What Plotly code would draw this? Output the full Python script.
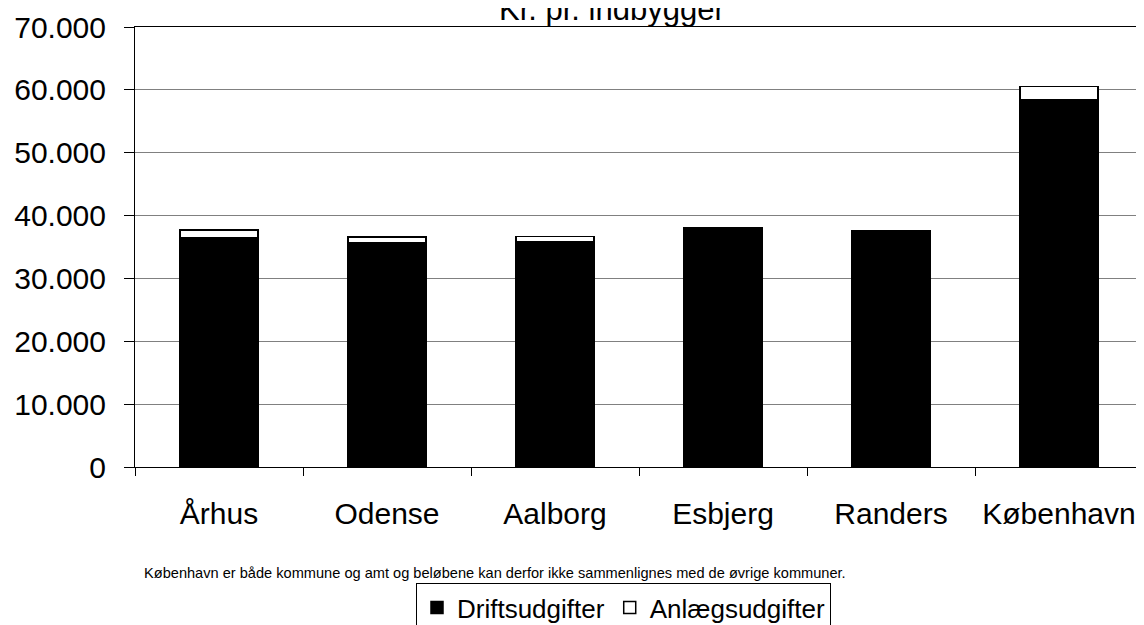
import plotly.graph_objects as go

KOMMUNER = ["Århus", "Odense", "Aalborg", "Esbjerg", "Randers", "København"]
DRIFT = [36500, 35600, 35800, 37900, 37600, 58500]
ANLAEG = [1200, 1000, 900, 200, 0, 2000]
Y_TICKS = [0, 10000, 20000, 30000, 40000, 50000, 60000, 70000]

FONT = "Liberation Sans, Arial, sans-serif"

# the page body adds an 8px margin, so the figure is 8px smaller than the window
# plot area on screen: x 135..1143, y 27..467
fig = go.Figure()
fig.add_trace(
    go.Bar(
        x=KOMMUNER,
        y=DRIFT,
        name="Driftsudgifter",
        marker=dict(color="#000000", line=dict(color="#000000", width=1.5)),
    )
)
fig.add_trace(
    go.Bar(
        x=KOMMUNER,
        y=ANLAEG,
        name="Anlægsudgifter",
        marker=dict(color="#ffffff", line=dict(color="#000000", width=1.5)),
    )
)

fig.update_layout(
    width=1136,
    height=617,
    barmode="stack",
    bargap=0.535,
    separators=",.",
    paper_bgcolor="white",
    plot_bgcolor="white",
    font=dict(family=FONT, color="#000000", size=30),
    margin=dict(l=127, r=1, t=19, b=158, autoexpand=False),
    showlegend=True,
    legend=dict(
        orientation="h",
        x=(416 - 135) / 1008,
        xanchor="left",
        y=(467 - 583) / 440,
        yanchor="top",
        bordercolor="#000000",
        borderwidth=1,
        font=dict(size=26),
        traceorder="normal",
        itemwidth=30,
    ),
    xaxis=dict(
        showline=True,
        linecolor="#000000",
        mirror=True,
        ticks="outside",
        tickson="boundaries",
        ticklen=8,
        tickcolor="#000000",
        ticklabelstandoff=20,
        showgrid=False,
    ),
    yaxis=dict(
        range=[0, 70000],
        tickvals=Y_TICKS,
        tickformat=",d",
        showline=True,
        linecolor="#000000",
        ticks="outside",
        ticklen=10,
        tickcolor="#000000",
        ticklabelstandoff=12,
        showgrid=True,
        gridcolor="#808080",
        gridwidth=1,
        zeroline=False,
    ),
)

fig.add_annotation(
    text="Kr. pr. indbygger",
    xref="paper",
    yref="paper",
    x=(612 - 135) / 1008,
    y=1.0,
    yshift=18,
    xanchor="center",
    yanchor="middle",
    showarrow=False,
    font=dict(size=31),
)
fig.add_annotation(
    text="København er både kommune og amt og beløbene kan derfor ikke sammenlignes med de øvrige kommuner.",
    xref="paper",
    yref="paper",
    x=(495 - 135) / 1008,
    y=0,
    yshift=-96,
    xanchor="center",
    yanchor="top",
    showarrow=False,
    font=dict(size=14.6),
)

fig.write_html("out.html")
